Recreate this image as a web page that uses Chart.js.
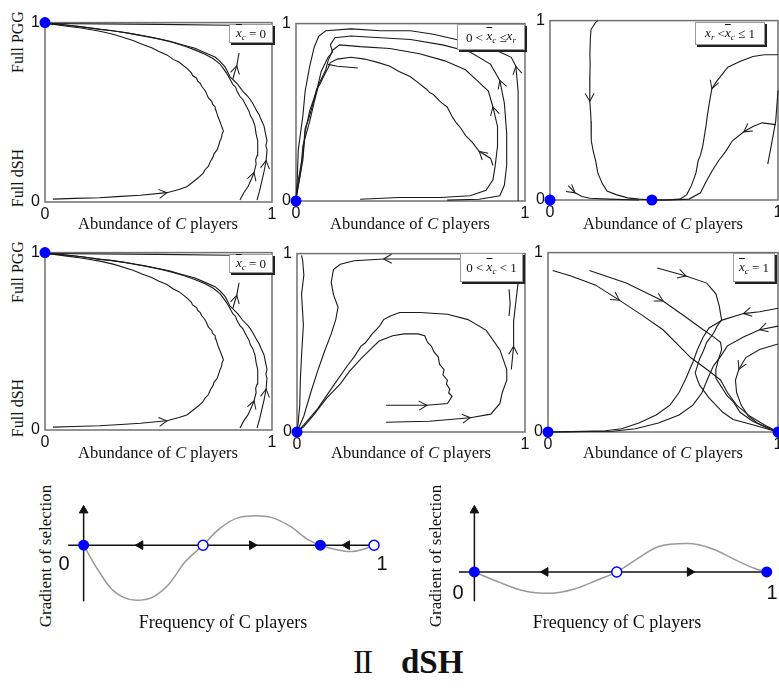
<!DOCTYPE html>
<html><head><meta charset="utf-8">
<script src="https://cdn.jsdelivr.net/npm/chart.js@4/dist/chart.umd.min.js"></script>
<style>
body{margin:0;width:779px;height:694px;position:relative;background:#fff;overflow:hidden;font-family:'Liberation Serif',serif;color:#111;}
canvas{position:absolute;}
.t{position:absolute;white-space:nowrap;transform:translate(-50%,-50%);line-height:1;}
.r{position:absolute;white-space:nowrap;transform:translate(-50%,-50%) rotate(-90deg);line-height:1;}
.lg{position:absolute;background:#fff;border:1px solid #999;box-shadow:2px 2px 0 #222;font-size:13px;line-height:1;white-space:nowrap;display:flex;align-items:center;justify-content:center;box-sizing:border-box;}
.ov{text-decoration:overline;}
.lg sub{font-size:9px;vertical-align:-3px;}
</style></head><body>

<canvas id="c1" width="253" height="224" style="left:27px;top:8px"></canvas>
<canvas id="c2" width="255" height="222" style="left:278px;top:9px"></canvas>
<canvas id="c3" width="254" height="224" style="left:532px;top:6px"></canvas>
<canvas id="c4" width="253" height="222" style="left:27px;top:238px"></canvas>
<canvas id="c5" width="254" height="223" style="left:279px;top:239px"></canvas>
<canvas id="c6" width="256" height="224" style="left:530px;top:238px"></canvas>
<canvas id="g1" width="340" height="120" style="left:55px;top:495px"></canvas>
<canvas id="g2" width="339" height="120" style="left:440px;top:495px"></canvas>

<div class="r" style="left:18px;top:42px;font-size:16px">Full PGG</div>
<div class="r" style="left:18px;top:178px;font-size:16px">Full dSH</div>
<div class="r" style="left:18px;top:272px;font-size:16px">Full PGG</div>
<div class="r" style="left:18px;top:408px;font-size:16px">Full dSH</div>

<div class="t" style="left:158px;top:224px;font-size:16.5px">Abundance of <i>C</i> players</div>
<div class="t" style="left:410px;top:224px;font-size:16.5px">Abundance of <i>C</i> players</div>
<div class="t" style="left:663px;top:224px;font-size:16.5px">Abundance of <i>C</i> players</div>
<div class="t" style="left:158px;top:453px;font-size:16.5px">Abundance of <i>C</i> players</div>
<div class="t" style="left:411px;top:453px;font-size:16.5px">Abundance of <i>C</i> players</div>
<div class="t" style="left:663px;top:453px;font-size:16.5px">Abundance of <i>C</i> players</div>

<div class="lg" style="left:229px;top:24px;width:44px;height:19px"><i><span class="ov">x</span><sub>c</sub></i>&nbsp;= 0</div>
<div class="lg" style="left:457px;top:24px;width:68px;height:26px">0 &lt; <i>&nbsp;<span class="ov">x</span><sub>c</sub></i>&nbsp;≤ <i>x<sub>r</sub></i></div>
<div class="lg" style="left:695px;top:22px;width:70px;height:23px"><i>x<sub>r</sub></i>&nbsp;&lt; <i><span class="ov">x</span><sub>c</sub></i>&nbsp;≤ 1</div>
<div class="lg" style="left:229px;top:254px;width:44px;height:19px"><i><span class="ov">x</span><sub>c</sub></i>&nbsp;= 0</div>
<div class="lg" style="left:460px;top:253px;width:63px;height:29px">0 &lt; <i>&nbsp;<span class="ov">x</span><sub>c</sub></i>&nbsp;&lt; 1</div>
<div class="lg" style="left:733px;top:253px;width:42px;height:29px"><i><span class="ov">x</span><sub>c</sub></i>&nbsp;= 1</div>

<div class="r" style="left:45px;top:556px;font-size:17px">Gradient of selection</div>
<div class="r" style="left:435px;top:556px;font-size:17px">Gradient of selection</div>
<div class="t" style="left:223px;top:622px;font-size:18px">Frequency of C players</div>
<div class="t" style="left:617px;top:622px;font-size:18px">Frequency of C players</div>
<div class="t" style="left:64px;top:563px;font-size:20px;font-family:'Liberation Sans'">0</div>
<div class="t" style="left:382px;top:563px;font-size:20px;font-family:'Liberation Sans'">1</div>
<div class="t" style="left:458px;top:592px;font-size:20px;font-family:'Liberation Sans'">0</div>
<div class="t" style="left:772px;top:592px;font-size:20px;font-family:'Liberation Sans'">1</div>

<div style="position:absolute;left:353px;top:646px;font-size:33px;line-height:1;white-space:nowrap"><span style="letter-spacing:-2px">II</span><span style="display:inline-block;width:30px"></span><b>dSH</b></div>

<script>
// ---------- data: panels 1 & 4 (x̄c = 0) ----------
const p1A = [[0.035,0.016],[0.13,0.02],[0.24,0.024],[0.317,0.03],[0.42,0.038],[0.537,0.052],[0.59,0.07],[0.625,0.085],[0.66,0.12],[0.675,0.135],[0.696,0.16],[0.705,0.18],[0.72,0.2],[0.728,0.225],[0.74,0.25],[0.745,0.27],[0.758,0.29],[0.765,0.315],[0.771,0.34],[0.778,0.36],[0.78,0.38],[0.786,0.395],[0.782,0.41],[0.776,0.43],[0.77,0.45],[0.762,0.475],[0.756,0.5],[0.752,0.515],[0.75,0.53],[0.738,0.545],[0.735,0.56],[0.72,0.58],[0.713,0.6],[0.708,0.615],[0.7,0.63],[0.69,0.645],[0.685,0.66],[0.672,0.675],[0.668,0.69],[0.65,0.705],[0.645,0.72],[0.625,0.745],[0.59,0.78],[0.565,0.795],[0.537,0.82],[0.5,0.84],[0.47,0.86],[0.43,0.878],[0.388,0.9],[0.3,0.935],[0.242,0.952],[0.16,0.97],[0.097,0.98],[0.04,0.99],[0,0.995]];
const p1B = [[0.859,0.011],[0.875,0.05],[0.894,0.085],[0.91,0.13],[0.921,0.165],[0.93,0.21],[0.928,0.235],[0.934,0.258],[0.938,0.3],[0.935,0.32],[0.938,0.341],[0.93,0.38],[0.925,0.423],[0.915,0.46],[0.905,0.48],[0.899,0.505],[0.88,0.55],[0.872,0.57],[0.859,0.588],[0.845,0.62],[0.84,0.64],[0.828,0.654],[0.815,0.685],[0.802,0.714],[0.785,0.745],[0.771,0.769],[0.74,0.8],[0.705,0.824],[0.66,0.848],[0.617,0.868],[0.56,0.89],[0.507,0.907],[0.44,0.925],[0.374,0.94],[0.3,0.955],[0.242,0.962],[0.17,0.975],[0.11,0.984],[0.05,0.992],[0,0.995]];
const p1C = [[0.934,0.011],[0.945,0.06],[0.956,0.121],[0.965,0.17],[0.974,0.231],[0.978,0.29],[0.973,0.315],[0.978,0.341],[0.97,0.39],[0.965,0.423],[0.95,0.465],[0.944,0.485],[0.934,0.505],[0.915,0.55],[0.905,0.57],[0.894,0.588],[0.87,0.62],[0.85,0.654],[0.83,0.68],[0.815,0.698],[0.805,0.725],[0.793,0.753],[0.77,0.785],[0.749,0.808],[0.7,0.835],[0.661,0.857],[0.6,0.878],[0.551,0.896],[0.48,0.915],[0.419,0.929],[0.35,0.945],[0.286,0.956],[0.22,0.967],[0.154,0.978],[0.08,0.988],[0,0.995]];
const p1D = [[0.828,0.687],[0.835,0.72],[0.845,0.76],[0.85,0.797],[0.855,0.83]];
const p1E = [[0.82,0.985],[0.5,0.99],[0,0.995]];
const p1Dots = [[0,1]];

// ---------- panel 2 (0 < x̄c ≤ xr) ----------
const p2T1 = [[0.86,0.2],[0.85,0.24],[0.8,0.28],[0.77,0.33],[0.74,0.37],[0.725,0.4],[0.72,0.41],[0.70,0.44],[0.685,0.47],[0.68,0.48],[0.66,0.53],[0.645,0.545],[0.63,0.56],[0.6,0.6],[0.585,0.61],[0.57,0.63],[0.53,0.67],[0.5,0.7],[0.45,0.73],[0.41,0.76],[0.36,0.78],[0.3,0.8],[0.24,0.81],[0.18,0.8],[0.15,0.78],[0.14,0.75],[0.12,0.7],[0.105,0.66],[0.09,0.63],[0.07,0.53],[0.055,0.46],[0.04,0.41],[0.03,0.26],[0.01,0.12],[0,0.01]];
const p2Spike = [[0.14,0.77],[0.18,0.76],[0.22,0.755],[0.27,0.75]];
const p2T2 = [[0.28,0.01],[0.45,0.02],[0.63,0.02],[0.76,0.03],[0.83,0.06],[0.86,0.12],[0.87,0.2],[0.88,0.31],[0.88,0.42],[0.86,0.53],[0.84,0.62],[0.79,0.68],[0.74,0.74],[0.65,0.79],[0.54,0.83],[0.41,0.86],[0.28,0.87],[0.19,0.88],[0.16,0.85],[0.14,0.79],[0.13,0.74],[0.1,0.66],[0.08,0.56],[0.06,0.45],[0.03,0.31],[0.02,0.16],[0,0.01]];
const p2T3 = [[0.66,0.005],[0.8,0.01],[0.89,0.03],[0.91,0.09],[0.92,0.2],[0.92,0.38],[0.91,0.55],[0.89,0.68],[0.85,0.77],[0.76,0.84],[0.64,0.88],[0.5,0.91],[0.37,0.92],[0.24,0.93],[0.17,0.92],[0.15,0.88],[0.16,0.84],[0.14,0.81],[0.11,0.73],[0.09,0.62],[0.06,0.51],[0.04,0.39],[0.03,0.23],[0.01,0.09],[0,0.01]];
const p2T4 = [[0.97,0.0],[0.97,0.17],[0.97,0.39],[0.97,0.62],[0.96,0.76],[0.94,0.81],[0.89,0.84],[0.8,0.88],[0.7,0.91],[0.6,0.94],[0.5,0.96],[0.37,0.96],[0.24,0.97],[0.13,0.96],[0.1,0.93],[0.08,0.87],[0.06,0.76],[0.04,0.62],[0.03,0.48],[0.01,0.29],[0.005,0.11],[0,0.01]];
const p2Dots = [[0,0]];

// ---------- panel 3 (xr < x̄c ≤ 1) ----------
const p3P1 = [[0.21,1.0],[0.2,0.99],[0.18,0.95],[0.177,0.9],[0.175,0.82],[0.176,0.75],[0.175,0.69],[0.174,0.62],[0.175,0.55],[0.178,0.49],[0.18,0.44],[0.18,0.38],[0.182,0.33],[0.19,0.27],[0.2,0.22],[0.21,0.15],[0.23,0.09],[0.25,0.05],[0.29,0.03],[0.34,0.012],[0.39,0.005],[0.447,0]];
const p3P2 = [[0.08,0.08],[0.11,0.04],[0.14,0.02],[0.175,0.01],[0.26,0.005],[0.39,0.0]];
const p3P3 = [[1.0,0.81],[0.94,0.81],[0.89,0.8],[0.83,0.77],[0.78,0.74],[0.73,0.66],[0.71,0.62],[0.70,0.55],[0.69,0.47],[0.685,0.42],[0.68,0.38],[0.67,0.3],[0.66,0.25],[0.65,0.22],[0.64,0.15],[0.62,0.08],[0.6,0.03],[0.57,0.005],[0.5,0],[0.447,0]];
const p3P4 = [[0.99,0.42],[0.93,0.43],[0.89,0.41],[0.85,0.38],[0.8,0.33],[0.77,0.27],[0.74,0.22],[0.71,0.16],[0.68,0.09],[0.66,0.04],[0.61,0.005],[0.53,0],[0.447,0]];
const p3P5 = [[1.0,0.61],[0.99,0.44],[0.97,0.3],[0.955,0.2]];
const p3Dots = [[0,0],[0.447,0]];

// ---------- panel 5 (0 < x̄c < 1) ----------
const p5Q1 = [[0.39,0.15],[0.5,0.15],[0.57,0.15],[0.66,0.16],[0.68,0.2],[0.665,0.22],[0.67,0.24],[0.655,0.27],[0.66,0.29],[0.64,0.32],[0.645,0.35],[0.625,0.38],[0.62,0.42],[0.6,0.45],[0.59,0.48],[0.575,0.5],[0.57,0.51],[0.56,0.54],[0.53,0.55],[0.47,0.55],[0.42,0.54],[0.36,0.51],[0.32,0.46],[0.28,0.41],[0.23,0.34],[0.19,0.27],[0.13,0.19],[0.07,0.09],[0.03,0.03],[0,0]];
const p5Q2 = [[0.39,0.055],[0.58,0.06],[0.76,0.08],[0.85,0.1],[0.89,0.16],[0.9,0.22],[0.92,0.29],[0.92,0.35],[0.89,0.46],[0.83,0.57],[0.75,0.63],[0.66,0.66],[0.54,0.67],[0.45,0.67],[0.41,0.65],[0.38,0.63],[0.36,0.59],[0.33,0.55],[0.3,0.5],[0.28,0.48],[0.25,0.42],[0.22,0.37],[0.16,0.26],[0.09,0.13],[0.03,0.04],[0,0]];
const p5Q3 = [[0.94,0.35],[0.95,0.48],[0.95,0.62],[0.96,0.73],[0.97,0.84],[0.96,0.92],[0.89,0.96],[0.71,0.97],[0.54,0.97],[0.38,0.97],[0.25,0.96],[0.19,0.94],[0.16,0.91],[0.15,0.84],[0.16,0.77],[0.18,0.7],[0.17,0.63],[0.15,0.55],[0.12,0.45],[0.09,0.34],[0.06,0.22],[0.03,0.09],[0,0]];
const p5Q4 = [[0.02,0.99],[0.025,0.96],[0.03,0.88],[0.02,0.77],[0.028,0.6],[0.02,0.43],[0.015,0.3],[0.012,0.15],[0.005,0.05],[0,0]];
const p5Q5 = [[0.93,0.8],[0.935,0.72],[0.93,0.65]];
const p5Dots = [[0,0]];

// ---------- panel 6 (x̄c = 1) ----------
const p6R1 = [[0.02,0.9],[0.1,0.87],[0.205,0.82],[0.31,0.735],[0.41,0.65],[0.5,0.57],[0.57,0.48],[0.62,0.415],[0.69,0.35],[0.75,0.29],[0.78,0.22],[0.82,0.15],[0.88,0.086],[0.94,0.04],[1.0,0]];
const p6R2 = [[0.18,0.9],[0.34,0.83],[0.5,0.73],[0.6,0.64],[0.675,0.57],[0.72,0.53],[0.75,0.5],[0.755,0.46],[0.75,0.44],[0.74,0.4],[0.73,0.35],[0.73,0.3],[0.75,0.26],[0.76,0.24],[0.78,0.2],[0.805,0.17],[0.835,0.11],[0.89,0.06],[0.94,0.03],[1.0,0]];
const p6R3 = [[0.475,0.914],[0.6,0.87],[0.69,0.83],[0.73,0.77],[0.745,0.7],[0.75,0.66],[0.755,0.625],[0.735,0.59],[0.72,0.55],[0.69,0.5],[0.675,0.45],[0.66,0.41],[0.65,0.37],[0.64,0.33],[0.65,0.29],[0.66,0.26],[0.7,0.19],[0.76,0.11],[0.805,0.07],[0.89,0.04],[1.0,0]];
const p6L1 = [[1.0,0.69],[0.92,0.67],[0.85,0.66],[0.76,0.625],[0.7,0.58],[0.675,0.53],[0.65,0.46],[0.63,0.39],[0.6,0.3],[0.57,0.22],[0.53,0.15],[0.47,0.095],[0.395,0.05],[0.32,0.018],[0.25,0.007],[0.1,0.002],[0,0]];
const p6L2 = [[1.0,0.59],[0.92,0.57],[0.85,0.53],[0.78,0.48],[0.75,0.42],[0.72,0.37],[0.695,0.3],[0.67,0.22],[0.63,0.15],[0.57,0.095],[0.48,0.05],[0.38,0.018],[0.28,0.004],[0.1,0.001],[0,0]];
const p6L3 = [[1.0,0.49],[0.92,0.46],[0.86,0.415],[0.83,0.35],[0.815,0.29],[0.82,0.22],[0.84,0.15],[0.87,0.09],[0.91,0.05],[0.96,0.02],[1.0,0]];
const p6Dots = [[0,0],[1,0]];

// ---------- gradient-of-selection panels ----------
const g1Curve = [[0,0],[0.04,-0.38],[0.096,-0.82],[0.139,-0.98],[0.182,-1.03],[0.238,-0.97],[0.295,-0.72],[0.348,-0.32],[0.411,0],[0.47,0.32],[0.536,0.52],[0.593,0.55],[0.646,0.52],[0.712,0.35],[0.768,0.12],[0.815,0],[0.868,-0.08],[0.917,-0.12],[0.96,-0.08],[1.0,0]];
const g1Stable = [[0,0],[0.815,0]];
const g1Unstable = [[0.411,0],[1.0,0]];
const g1LeftArrows = [[0.195,0],[0.907,0]];
const g1RightArrows = [[0.58,0]];
const g2Curve = [[0,0],[0.079,-0.18],[0.168,-0.35],[0.257,-0.40],[0.342,-0.32],[0.421,-0.15],[0.487,0],[0.553,0.23],[0.628,0.47],[0.727,0.53],[0.816,0.43],[0.891,0.23],[0.957,0.07],[1.0,0]];
const g2Stable = [[0,0],[1,0]];
const g2Unstable = [[0.487,0]];
const g2LeftArrows = [[0.243,0]];
const g2RightArrows = [[0.737,0]];

// ---------- helpers ----------
const pts = a => a.map(p => ({x:p[0], y:p[1]}));

const framePlugin = {
  id:'frame',
  beforeDatasetsDraw(c, args, opts){
    if(!opts.on) return;
    const a = c.chartArea, ctx = c.ctx;
    ctx.save(); ctx.strokeStyle = '#707070'; ctx.lineWidth = 1.5;
    ctx.strokeRect(a.left, a.top, a.right - a.left, a.bottom - a.top);
    ctx.restore();
  }
};
const arrowPlugin = {
  id:'chevrons',
  afterDatasetsDraw(c){
    const ctx = c.ctx;
    c.data.datasets.forEach((ds, i) => {
      if(!ds.arrowAt) return;
      const meta = c.getDatasetMeta(i);
      ds.arrowAt.forEach(k => {
        const p = meta.data[k], a = meta.data[k-1] || p, b = meta.data[k+1] || p;
        const ang = Math.atan2(b.y - a.y, b.x - a.x);
        ctx.save(); ctx.translate(p.x, p.y); ctx.rotate(ang);
        ctx.beginPath(); ctx.moveTo(-8,-4.5); ctx.lineTo(0,0); ctx.lineTo(-8,4.5);
        ctx.strokeStyle = '#1a1a1a'; ctx.lineWidth = 1; ctx.stroke(); ctx.restore();
      });
    });
  }
};

const tickFont = {family:'Liberation Sans', size:16};
function makePhase(id, trajs, dots){
  const ds = [{data:pts(dots), pointRadius:5.5, pointBackgroundColor:'#0000ff', pointBorderWidth:0, showLine:false, clip:false}];
  trajs.forEach(t => ds.push({data:pts(t[0]), showLine:true, borderColor:'#1a1a1a', borderWidth:1.1, pointRadius:0, tension:0, fill:false, arrowAt:t[1]||[], clip:false}));
  new Chart(document.getElementById(id), {
    type:'scatter',
    data:{datasets:ds},
    options:{
      responsive:false, animation:false, events:[],
      layout:{padding:{top:12, right:8, left:0, bottom:0}},
      plugins:{legend:{display:false}, tooltip:{enabled:false}, frame:{on:true}},
      scales:{
        x:{type:'linear', min:0, max:1, grid:{display:false, drawTicks:false}, border:{display:false},
           ticks:{stepSize:1, padding:3, font:tickFont, color:'#111', maxRotation:0},
           afterFit(s){ s.height = 30; }},
        y:{type:'linear', min:0, max:1, grid:{display:false, drawTicks:false}, border:{display:false},
           ticks:{stepSize:1, padding:5, font:tickFont, color:'#111'},
           afterFit(s){ s.width = 18; }}
      }
    },
    plugins:[framePlugin, arrowPlugin]
  });
}

function makeGrad(id, xr, yr, curve, stable, unstable, lArr, rArr, axH, axV){
  const tri = (d, rot) => ({data:pts(d), pointStyle:'triangle', rotation:rot, pointRadius:5, pointBackgroundColor:'#111', pointBorderColor:'#111', pointBorderWidth:1, showLine:false, clip:false});
  const ds = [
    {data:pts(stable), pointRadius:5.5, pointBackgroundColor:'#0000ff', pointBorderWidth:0, showLine:false, clip:false},
    {data:pts(unstable), pointRadius:5, pointBackgroundColor:'#fff', pointBorderColor:'#0000ff', pointBorderWidth:1.5, showLine:false, clip:false},
    tri(lArr, -90), tri(rArr, 90), tri([[0, axV[1][1]]], 0),
    {data:pts(curve), showLine:true, borderColor:'#9a9a9a', borderWidth:1.5, pointRadius:0, cubicInterpolationMode:'monotone', clip:false},
    {data:pts(axH), showLine:true, borderColor:'#111', borderWidth:1.5, pointRadius:0, clip:false},
    {data:pts(axV), showLine:true, borderColor:'#111', borderWidth:1.5, pointRadius:0, clip:false}
  ];
  new Chart(document.getElementById(id), {
    type:'scatter', data:{datasets:ds},
    options:{responsive:false, animation:false, events:[], layout:{padding:0},
      plugins:{legend:{display:false}, tooltip:{enabled:false}},
      scales:{x:{display:false, min:xr[0], max:xr[1]}, y:{display:false, min:yr[0], max:yr[1]}}}
  });
}

// ---------- build ----------
const panel1 = [[p1A,[5]],[p1B,[4]],[p1C,[4]],[p1D,[2]],[p1E]];
makePhase('c1', panel1, p1Dots);
makePhase('c4', panel1, p1Dots);
makePhase('c2', [[p2T1,[2]],[p2Spike],[p2T2,[9]],[p2T3,[7]],[p2T4,[4]]], p2Dots);
makePhase('c3', [[p3P1,[8]],[p3P2,[1]],[p3P3,[6]],[p3P4,[3]],[p3P5]], p3Dots);
makePhase('c5', [[p5Q1,[2]],[p5Q2,[2]],[p5Q3,[1,9]],[p5Q4],[p5Q5]], p5Dots);
makePhase('c6', [[p6R1,[3]],[p6R2,[2]],[p6R3,[1]],[p6L1,[2]],[p6L2,[1]],[p6L3,[3]]], p6Dots);

makeGrad('g1', [-0.0762, 1.0497], [-1.1833, 0.8167], g1Curve, g1Stable, g1Unstable, g1LeftArrows, g1RightArrows,
  [[-0.053,0],[1,0]], [[0,-1.05],[0,0.65]]);
makeGrad('g2', [-0.0954, 1.0197], [-0.6833, 1.3167], g2Curve, g2Stable, g2Unstable, g2LeftArrows, g2RightArrows,
  [[-0.053,0],[1,0]], [[0,-0.55],[0,1.15]]);
</script>
</body></html>
